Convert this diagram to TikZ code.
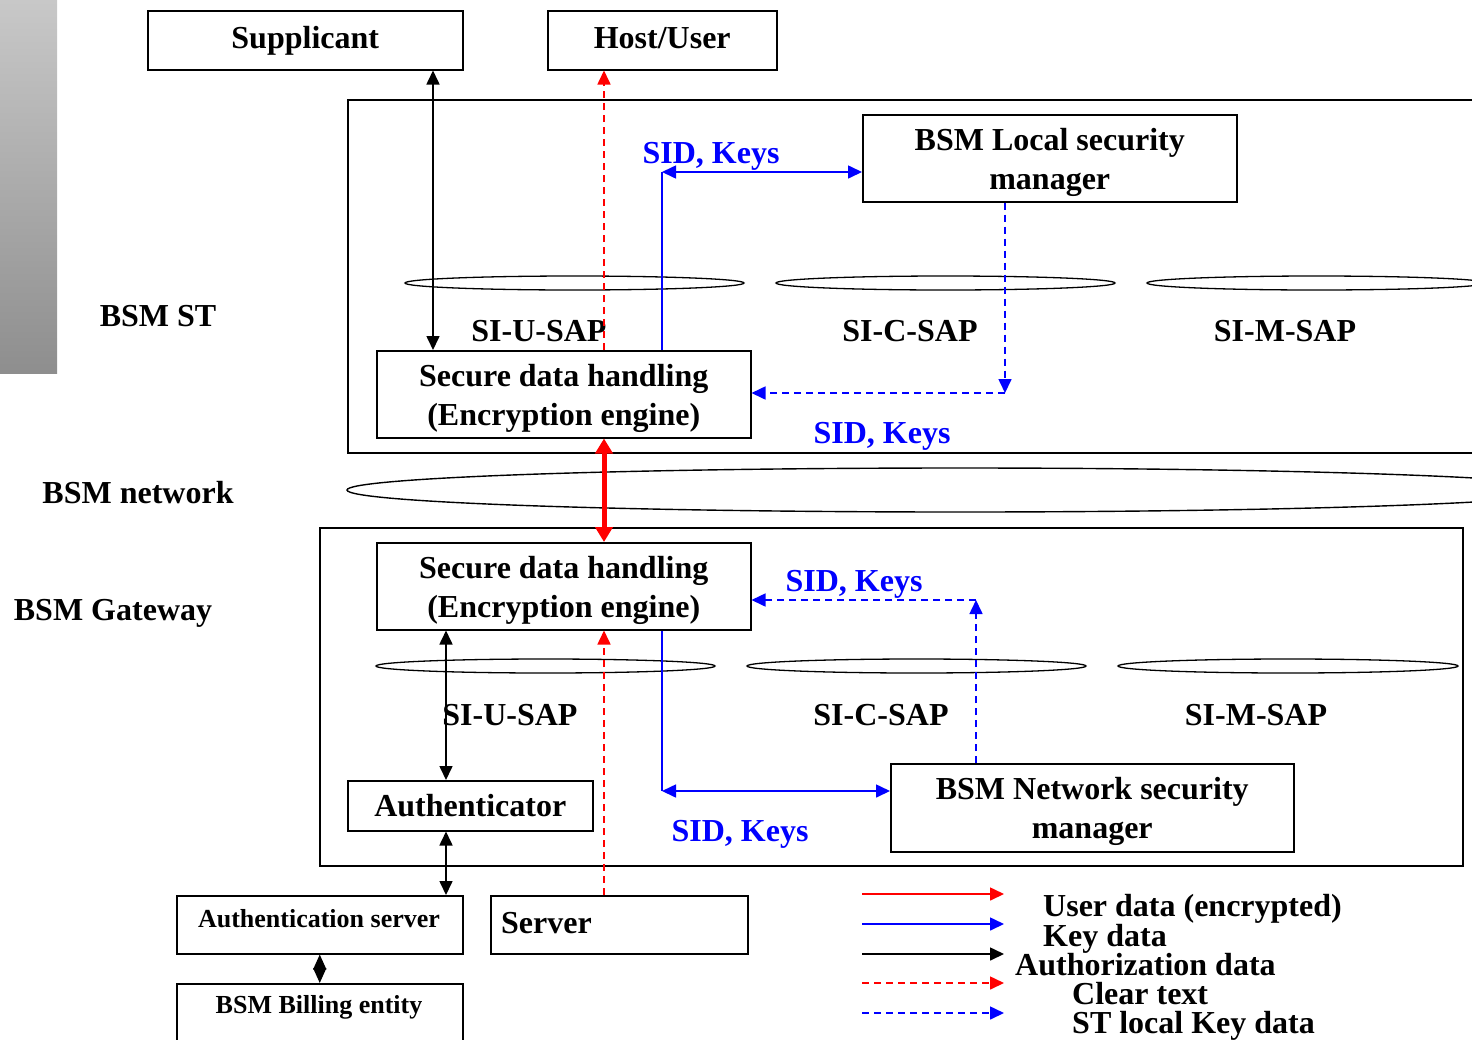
\documentclass[tikz,border=0pt]{standalone}
\usepackage{fontspec}
\setmainfont{Liberation Serif}
\usetikzlibrary{arrows.meta,calc}
\definecolor{kblue}{RGB}{0,0,255}
\definecolor{kred}{RGB}{255,0,0}
\definecolor{gtop}{RGB}{200,200,200}
\definecolor{gbot}{RGB}{142,142,142}
\newcommand{\tstrut}{\rule{0pt}{30pt}}
\begin{document}
\begin{tikzpicture}[x=1pt,y=-1pt,
  big/.style={font=\bfseries\fontsize{32}{39}\selectfont},
  small/.style={font=\bfseries\fontsize{26}{31}\selectfont},
  box/.style={draw, line width=1.5pt, inner sep=0pt, align=center, anchor=north west, big},
  onel/.style={text height=23pt, text depth=7pt},
  lbl/.style={big, inner sep=0pt},
  blbl/.style={lbl, text=kblue},
  sap/.style={draw, line width=1.3pt},
  ln/.style={line width=1.6pt},
  bl/.style={ln, draw=kblue},
  bld/.style={ln, draw=kblue, dash pattern=on 7pt off 5pt},
  rdd/.style={ln, draw=kred, dash pattern=on 7pt off 5pt},
  tip/.style={-{Triangle[length=14pt,width=13pt]}},
  dtip/.style={{Triangle[length=14pt,width=13pt]}-{Triangle[length=14pt,width=13pt]}},
]
\useasboundingbox (0,0) rectangle (1472,1039);
\clip (0,0) rectangle (1472,1039);

% gray bar
\shade[top color=gtop, bottom color=gbot] (0,0) rectangle (57,373);

% outer boxes
\node[box, minimum width=1250, minimum height=353] (st) at (347,99) {};
\node[box, minimum width=1143, minimum height=338] (gw) at (319,527) {};
\draw[line width=1.4pt] (960,490) ellipse [x radius=613, y radius=22];

% side labels
\node[lbl] (lst) at (158,316) {BSM ST};
\node[lbl] (lnet) at (138,493) {BSM network};
\node[lbl] (lgw) at (113,613) {BSM Gateway};

% top boxes
\node[box, onel, minimum width=315, minimum height=59] (supp) at (147,10) {Supplicant};
\node[box, onel, minimum width=229, minimum height=59] (host) at (547,10) {Host/User};
\node[box, minimum width=374, minimum height=87] (bsmloc) at (862,114) {\tstrut BSM Local security\\manager};

% ST SAPs
\draw[sap] (574.5,283) ellipse [x radius=169.5, y radius=7];
\draw[sap] (945.5,283) ellipse [x radius=169.5, y radius=7];
\draw[sap] (1316.5,283) ellipse [x radius=169.5, y radius=7];
\node[lbl] (su1) at (539,331) {SI-U-SAP};
\node[lbl] (sc1) at (910,331) {SI-C-SAP};
\node[lbl] (sm1) at (1285,331) {SI-M-SAP};

\node[box, minimum width=374, minimum height=87, fill=white] (sdhst) at (376,350) {\tstrut Secure data handling\\(Encryption engine)};

% GW
\node[box, minimum width=374, minimum height=87] (sdhgw) at (376,542) {\tstrut Secure data handling\\(Encryption engine)};
\draw[sap] (545.5,666) ellipse [x radius=169.5, y radius=7];
\draw[sap] (916.5,666) ellipse [x radius=169.5, y radius=7];
\draw[sap] (1288,666) ellipse [x radius=170, y radius=7];
\node[lbl] (su2) at (510,715) {SI-U-SAP};
\node[lbl] (sc2) at (881,715) {SI-C-SAP};
\node[lbl] (sm2) at (1256,715) {SI-M-SAP};

\node[box, minimum width=245, minimum height=50] (auth) at (347,780) {Authenticator};
\node[box, minimum width=403, minimum height=88] (bsmnet) at (890,763) {\tstrut BSM Network security\\manager};

% bottom
\node[box, minimum width=286, minimum height=58] (authsrv) at (176,895) {};
\node[small, inner sep=0pt] (authsrvt) at (319,919) {Authentication server};
\node[box, minimum width=257, minimum height=58] (server) at (490,895) {};
\node[lbl, anchor=west] (servert) at (501,923) {Server};
\node[box, minimum width=286, minimum height=90] (bill) at (176,983) {};
\node[small, inner sep=0pt] (billt) at (319,1007) {BSM Billing entity};

% coordinates
\coordinate (xa) at (433,0);
\coordinate (xb) at (446,0);
\coordinate (xr) at (604,0);
\coordinate (kst) at (662,172);
\coordinate (kgw) at (662,791);
\coordinate (dst) at (1005,393);
\coordinate (dgw) at (976,600);

% ST connectors
\draw[ln, dtip] (supp.south -| xa) -- (sdhst.north -| xa);
\draw[rdd, tip] (sdhst.north -| xr) -- (host.south -| xr);
\draw[bl] (sdhst.north -| kst) -- (kst);
\draw[bl, dtip] (kst) -- (bsmloc.west |- kst);
\draw[bld, tip] (bsmloc.south -| dst) -- (dst);
\draw[bld, tip] (dst) -- (sdhst.east |- dst);
\node[blbl] (k1) at (711,156) {SID, Keys};
\node[blbl] (k2) at (882,436) {SID, Keys};

% network
\draw[line width=5pt, draw=kred, {Triangle[length=15pt,width=17pt]}-{Triangle[length=15pt,width=17pt]}] (sdhst.south -| xr) -- (sdhgw.north -| xr);

% GW connectors
\draw[ln, dtip] (sdhgw.south -| xb) -- (auth.north -| xb);
\draw[ln, dtip] (auth.south -| xb) -- (authsrv.north -| xb);
\draw[rdd, tip] (server.north -| xr) -- (sdhgw.south -| xr);
\draw[bl] (sdhgw.south -| kgw) -- (kgw);
\draw[bl, dtip] (kgw) -- (bsmnet.west |- kgw);
\draw[bld, tip] (bsmnet.north -| dgw) -- (dgw);
\draw[bld, tip] (dgw) -- (sdhgw.east |- dgw);
\node[blbl] (k3) at (854,584) {SID, Keys};
\node[blbl] (k4) at (740,834) {SID, Keys};

\draw[ln, {Triangle[length=15pt,width=13pt]}-{Triangle[length=15pt,width=13pt]}] (authsrv.south) -- (bill.north);

% legend
\coordinate (l1a) at (862,894); \coordinate (l1b) at (1004,894);
\coordinate (l2a) at (862,924); \coordinate (l2b) at (1004,924);
\coordinate (l3a) at (862,954); \coordinate (l3b) at (1004,954);
\coordinate (l4a) at (862,983); \coordinate (l4b) at (1004,983);
\coordinate (l5a) at (862,1013); \coordinate (l5b) at (1004,1013);
\draw[ln, draw=kred, tip] (l1a) -- (l1b);
\draw[bl, tip] (l2a) -- (l2b);
\draw[ln, tip] (l3a) -- (l3b);
\draw[rdd, tip] (l4a) -- (l4b);
\draw[bld, tip] (l5a) -- (l5b);
\node[lbl, anchor=base west] (t1) at (1043,916) {User data (encrypted)};
\node[lbl, anchor=base west] (t2) at (1043,946) {Key data};
\node[lbl, anchor=base west] (t3) at (1015,975) {Authorization data};
\node[lbl, anchor=base west] (t4) at (1072,1004) {Clear text};
\node[lbl, anchor=base west] (t5) at (1072,1033) {ST local Key data};
\end{tikzpicture}
\end{document}
